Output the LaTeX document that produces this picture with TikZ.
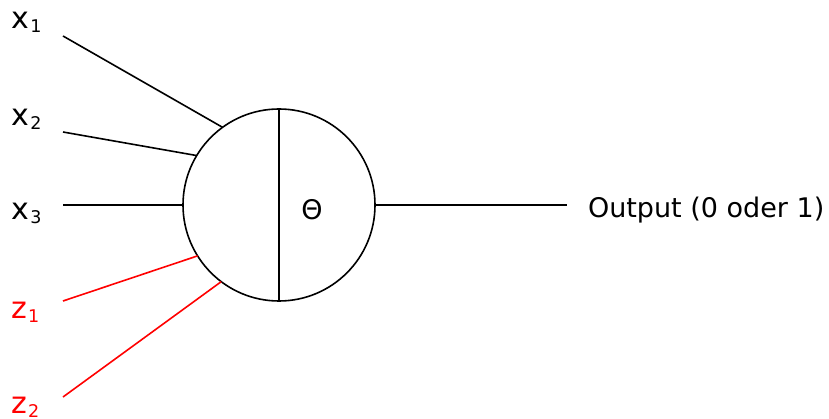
\documentclass[tikz,border=0pt]{standalone}
\usepackage{fontspec}
\setmainfont{DejaVu Sans}
\newcommand{\varlbl}[2]{{\fontsize{30}{30}\selectfont #1}\hspace{1.5pt}\raisebox{-4pt}{\fontsize{17.5}{17.5}\selectfont #2}}
\begin{document}
\begin{tikzpicture}[x=1pt,y=-1pt,
  wire/.style={line width=1.6pt},
  redwire/.style={line width=1.6pt,red},
  lbl/.style={anchor=base west,inner sep=0,outer sep=0},
  neuron/.style={draw,circle,line width=1.6pt,minimum size=192pt,inner sep=0,outer sep=0}]
\useasboundingbox (0,0) rectangle (829,419);
\node[neuron] (n) at (279,205) {};
\draw[wire] (n.north) -- (n.south);
\node[anchor=base,inner sep=0] (theta) at (312,220) {\fontsize{27}{27}\selectfont Θ};
% labels
\node[lbl] (l1) at (11,29) {\varlbl{x}{1}};
\node[lbl] (l2) at (11,126) {\varlbl{x}{2}};
\node[lbl] (l3) at (11,220) {\varlbl{x}{3}};
\node[lbl,text=red] (l4) at (11,318) {\varlbl{z}{1}};
\node[lbl,text=red] (l5) at (11,413) {\varlbl{z}{2}};
% free ends
\coordinate (a1) at (63,36);
\coordinate (a2) at (63,132);
\coordinate (a3) at (63,205);
\coordinate (a4) at (63,301);
\coordinate (a5) at (63,397);
\draw[wire] (a1) -- (n.126.5);
\draw[wire] (a2) -- (n.149);
\draw[wire] (a3) -- (n.180);
\draw[redwire] (a4) -- (n.212.4);
\draw[redwire] (a5) -- (n.233.8);
% output
\node[lbl] (out) at (588,218) {\fontsize{27}{27}\selectfont Output (0 oder 1)};
\coordinate (o) at (567,205);
\draw[wire] (n.east) -- (o);
\end{tikzpicture}
\end{document}
